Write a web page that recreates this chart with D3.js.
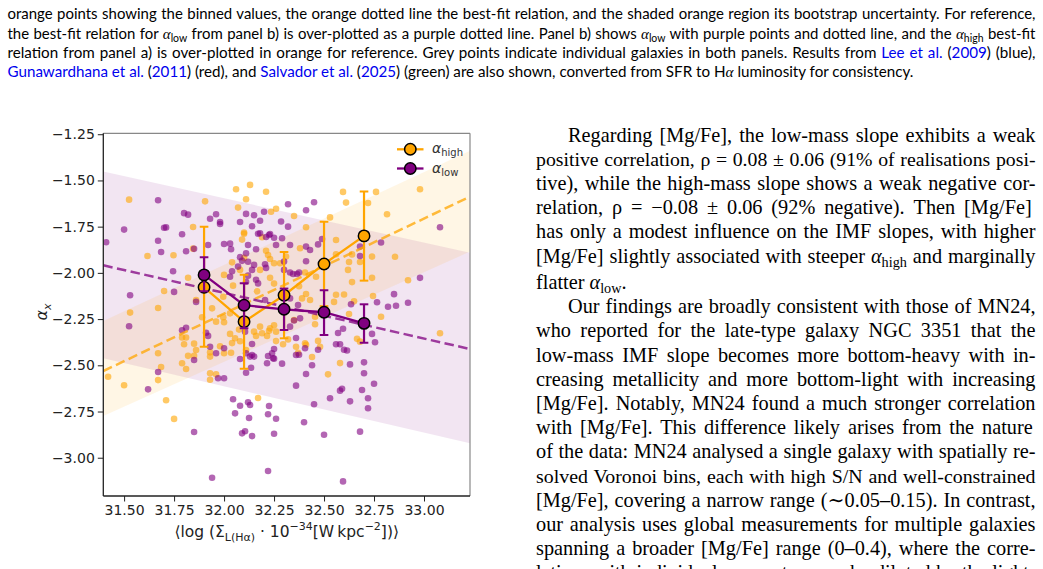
<!DOCTYPE html>
<html><head><meta charset="utf-8">
<script src="https://cdn.jsdelivr.net/npm/d3@7"></script>
<style>
body{margin:0;background:#fff;}
svg{display:block;}
</style></head><body>
<svg id="fig" width="1043" height="569"></svg>
<script>
// ---------------- DATA ----------------
const xTicks = [31.5, 31.75, 32.0, 32.25, 32.5, 32.75, 33.0];
const yTicks = [-3.0, -2.75, -2.5, -2.25, -2.0, -1.75, -1.5, -1.25];
const xDomain = [31.396, 33.23];
const yDomain = [-3.207, -1.245];

// binned values
const binX = [31.9, 32.1, 32.3, 32.5, 32.7];
const highY = [-2.078, -2.264, -2.121, -1.952, -1.80];
const highLo = [-2.40, -2.518, -2.354, -2.18, -2.042];
const highHi = [-1.75, -2.01, -1.887, -1.723, -1.56];
const lowY = [-2.011, -2.175, -2.197, -2.213, -2.273];
const lowLo = [-2.10, -2.30, -2.309, -2.336, -2.378];
const lowHi = [-1.916, -2.056, -2.085, -2.094, -2.17];

// best-fit relations (values at the axis ends) and bootstrap bands
const fitX = [31.396, 33.23];
const highFitY = [-2.531, -1.588];
const highBandLo = [-2.774, -1.885];
const highBandHi = [-2.26, -1.339];
const lowFitY = [-1.959, -2.412];
const lowBandLo = [-2.462, -2.922];
const lowBandHi = [-1.452, -1.891];

// individual galaxies
const highPts = [
[31.525,-1.604],[31.905,-1.613],[32.06,-1.548],[32.13,-1.524],[32.21,-1.561],[32.11,-1.602],[32.07,-1.647],[32.235,-1.669],[32.26,-1.653],[31.845,-1.752],
[32.10,-1.788],[32.09,-1.82],[31.617,-1.909],[31.747,-1.905],[31.845,-1.869],[31.82,-2.026],[31.70,-2.098],[31.67,-2.19],[31.53,-2.215],[32.10,-1.919],
[32.08,-1.984],[32.21,-1.88],[32.23,-1.925],[32.25,-1.948],[32.045,-2.069],[32.165,-2.10],[32.25,-2.058],[31.996,-2.129],
[32.595,-1.562],[32.61,-1.62],[32.76,-1.562],[32.72,-1.622],[32.98,-1.548],[32.815,-1.683],[32.53,-1.70],[32.41,-1.753],[32.35,-1.692],
[32.855,-1.913],[32.74,-1.912],[32.68,-1.941],[32.64,-1.90],[32.625,-1.941],[32.62,-1.984],[32.56,-1.899],[32.64,-2.05],[32.92,-2.04],[32.74,-2.027],
[32.56,-2.118],[32.60,-2.117],[32.41,-2.114],[32.375,-2.072],[32.46,-2.021],[32.55,-2.157],[32.65,-2.154],[32.745,-2.125],
[31.42,-2.562],[31.50,-2.608],[31.71,-2.689],[31.75,-2.79],[31.67,-2.435],[31.685,-2.509],[31.67,-2.58],[31.79,-2.489],[31.81,-2.52],[31.93,-2.543],
[31.93,-2.578],[31.96,-2.549],[31.82,-2.449],[31.85,-2.449],[31.85,-2.383],[31.86,-2.417],[31.80,-2.386],[31.79,-2.35],[31.81,-2.35],[31.93,-2.43],
[31.98,-2.397],[32.035,-2.432],[32.04,-2.38],[32.03,-2.33],[32.075,-2.307],[32.08,-2.37],[32.17,-2.677],[32.11,-2.417],[32.19,-2.327],[32.225,-2.313],
[32.25,-2.284],[32.26,-2.369],[32.295,-2.386],[32.16,-2.341],[31.96,-2.264],[32.0,-2.267],
[33.08,-2.327],[32.785,-2.237],[32.58,-2.488],[32.52,-2.549],[32.44,-2.455],[32.41,-2.389],[32.36,-2.40],[32.37,-2.433],[32.47,-2.368],[32.48,-2.40],
[32.32,-2.36],[32.665,-2.357],[32.68,-2.372],[32.455,-2.278],[32.625,-2.223],
[32.10,-1.782],[32.19,-1.807],[32.22,-1.903],[32.04,-1.943],[32.0,-2.011],[32.18,-1.984],[32.23,-2.027],[32.405,-1.998],[31.86,-2.147],[31.94,-2.192],
[31.89,-2.24],[31.996,-2.24],[32.03,-2.219],[32.15,-2.318],[32.18,-2.291],[32.23,-2.30],[32.215,-2.341],[32.26,-2.318],[32.405,-2.381],[31.93,-2.453],
[32.0,-2.435],[32.055,-2.354],[32.35,-2.255],[32.455,-2.237],[32.43,-2.147],[32.39,-2.138],[32.28,-1.948],[32.31,-1.912],[32.38,-1.867],[32.56,-1.822]
];
const lowPts = [
[31.41,-1.834],[31.67,-1.607],[31.50,-1.766],[31.70,-1.756],[31.71,-1.754],[31.67,-1.826],[31.685,-1.887],[31.79,-1.791],[31.80,-1.677],[31.82,-1.685],
[31.93,-1.707],[31.96,-1.683],[31.98,-1.736],[31.98,-1.725],[31.92,-1.849],[31.81,-1.883],[31.85,-1.870],[31.745,-1.991],[31.53,-2.121],[31.86,-2.157],
[32.0,-1.844],[32.03,-1.842],[32.035,-1.872],[32.11,-1.681],[32.08,-1.725],[32.14,-1.748],[32.15,-1.688],[32.12,-1.849],[32.16,-1.872],[32.17,-1.788],
[32.18,-1.718],[32.20,-1.669],[32.21,-1.806],[32.23,-1.79],[32.25,-1.81],[32.29,-1.813],[32.285,-1.722],[32.32,-1.629],[32.11,-1.894],[32.08,-1.915],
[32.09,-1.935],[32.07,-1.966],[32.04,-1.991],[32.12,-2.015],[32.14,-1.984],[32.16,-2.037],[32.205,-1.953],[32.21,-1.973],[32.30,-1.939],[32.11,-2.048],[31.75,-2.103],
[32.45,-1.618],[32.41,-1.661],[32.32,-1.75],[33.08,-1.753],[32.785,-1.836],[32.68,-1.858],[32.68,-1.909],[32.49,-1.817],[32.47,-1.846],[32.41,-1.858],
[32.43,-1.876],[32.41,-1.937],[32.365,-2.006],[32.345,-2.006],[32.98,-2.027],[32.85,-2.115],[32.92,-2.162],[32.82,-2.183],[32.86,-2.178],[32.635,-2.17],[32.765,-2.159],
[31.525,-2.289],[31.62,-2.63],[31.67,-2.536],[31.85,-2.861],[31.94,-3.108],[31.79,-2.31],[31.81,-2.297],[31.91,-2.324],[31.93,-2.40],[31.96,-2.435],
[32.0,-2.408],[31.97,-2.57],[32.0,-2.57],[32.045,-2.684],[32.055,-2.76],[32.08,-2.719],[32.12,-2.70],[32.13,-2.715],[32.125,-2.785],[32.09,-2.868],
[32.105,-2.857],[32.14,-2.883],[32.08,-2.466],[32.11,-2.54],[32.135,-2.513],[32.11,-2.435],[32.13,-2.453],[32.15,-2.453],[32.14,-2.385],[32.215,-2.489],
[32.225,-2.72],[32.22,-2.765],[32.26,-2.789],[32.25,-2.87],[32.22,-3.072],[32.25,-2.464],[32.29,-2.491],[32.24,-2.435],[32.25,-2.412],
[32.36,-2.352],[32.375,-2.443],[32.47,-2.416],[32.44,-2.50],[32.41,-2.547],[32.36,-2.61],[32.45,-2.711],[32.40,-2.808],[32.50,-2.876],[32.595,-3.128],
[32.68,-2.859],[32.53,-2.678],[32.58,-2.637],[32.59,-2.627],[32.63,-2.695],[32.69,-2.634],[32.72,-2.678],[32.72,-2.732],[32.75,-2.60],[32.70,-2.543],
[32.70,-2.484],[32.63,-2.495],[32.57,-2.325],[32.595,-2.302],[32.56,-2.386],[32.58,-2.386],[32.60,-2.416],[32.615,-2.42],[32.74,-2.33],[32.755,-2.375],
[32.18,-1.786],[32.225,-1.795],[32.26,-1.849],[32.33,-1.849],[32.33,-1.998],[32.375,-1.998],[32.12,-1.94],[32.15,-1.957],[32.03,-2.021],[32.17,-2.057],
[32.205,-2.147],[32.30,-1.984],[32.33,-2.138],[32.37,-2.174],[32.38,-2.246],[32.35,-2.258],[32.33,-2.291],[32.405,-2.408],[32.36,-2.444],[32.22,-2.45],
[32.245,-2.462],[32.14,-2.444],[32.105,-2.318],[31.92,-2.341],[31.85,-2.471]
];

const legendLabels = [["α","high"],["α","low"]];

// ---------------- TEXT ----------------
const captionLines = [
 [{t:"orange points showing the binned values, the orange dotted line the best-fit relation, and the shaded orange region its bootstrap uncertainty. For reference,"}],
 [{t:"the best-fit relation for "},{t:"α",m:1},{t:"low",sub:1},{t:" from panel b) is over-plotted as a purple dotted line. Panel b) shows "},{t:"α",m:1},{t:"low",sub:1},{t:" with purple points and dotted line, and the "},{t:"α",m:1},{t:"high",sub:1},{t:" best-fit"}],
 [{t:"relation from panel a) is over-plotted in orange for reference. Grey points indicate individual galaxies in both panels. Results from "},{t:"Lee et al.",link:1},{t:" ("},{t:"2009",link:1},{t:") (blue),"}],
 [{t:"Gunawardhana et al.",link:1},{t:" ("},{t:"2011",link:1},{t:") (red), and "},{t:"Salvador et al.",link:1},{t:" ("},{t:"2025",link:1},{t:") (green) are also shown, converted from SFR to H"},{t:"α",m:1},{t:" luminosity for consistency."}]
];
const bodyLines = [
 {ind:1, s:[{t:"Regarding [Mg/Fe], the low-mass slope exhibits a weak"}]},
 {s:[{t:"positive correlation, ρ = 0.08 ± 0.06 (91% of realisations posi-"}]},
 {s:[{t:"tive), while the high-mass slope shows a weak negative cor-"}]},
 {s:[{t:"relation, ρ = −0.08 ± 0.06 (92% negative).  Then [Mg/Fe]"}]},
 {s:[{t:"has only a modest influence on the IMF slopes, with higher"}]},
 {s:[{t:"[Mg/Fe] slightly associated with steeper "},{t:"α",m:1},{t:"high",sub:1},{t:" and marginally"}]},
 {last:1, s:[{t:"flatter "},{t:"α",m:1},{t:"low",sub:1},{t:"."}]},
 {ind:1, s:[{t:"Our findings are broadly consistent with those of MN24,"}]},
 {s:[{t:"who reported for the late-type galaxy NGC 3351 that the"}]},
 {s:[{t:"low-mass IMF slope becomes more bottom-heavy with in-"}]},
 {s:[{t:"creasing metallicity and more bottom-light with increasing"}]},
 {s:[{t:"[Mg/Fe]. Notably, MN24 found a much stronger correlation"}]},
 {s:[{t:"with [Mg/Fe].  This difference likely arises from the nature"}]},
 {s:[{t:"of the data: MN24 analysed a single galaxy with spatially re-"}]},
 {s:[{t:"solved Voronoi bins, each with high S/N and well-constrained"}]},
 {s:[{t:"[Mg/Fe], covering a narrow range (∼0.05–0.15). In contrast,"}]},
 {s:[{t:"our analysis uses global measurements for multiple galaxies"}]},
 {s:[{t:"spanning a broader [Mg/Fe] range (0–0.4), where the corre-"}]},
 {s:[{t:"lations with individual parameters can be diluted by the light-"}]}
];
const bodyCenters = [135.5,159.7,183.9,208.1,232.3,256.5,283,307.2,331.4,355.6,379.8,404,428.2,452.4,476.6,500.8,525,549.2,573.4];

// ---------------- DRAW ----------------
const svg = d3.select('#fig');
svg.append('rect').attr('width',1043).attr('height',569).attr('fill','#fff');

function textLine(parent, segs, x0, yb, target, opt) {
  let size = opt.size;
  let t;
  function build() {
    if (t) t.remove();
    t = parent.append('text').attr('x', x0).attr('y', yb)
      .attr('font-family', opt.family).attr('font-size', size).attr('fill', '#000');
    let shift = 0;
    segs.forEach(s => {
      const ts = t.append('tspan').text(s.t);
      let dy = 0;
      if (s.sub) { const d = size*opt.subShift; dy = d - shift; shift = d; ts.attr('font-size', size*0.7); }
      else { dy = -shift; shift = 0; }
      if (dy) ts.attr('dy', dy);
      if (s.m) ts.attr('font-family', opt.math).attr('font-style', 'italic');
      if (s.link) ts.attr('fill', opt.link);
    });
  }
  build();
  const w0 = t.node().getComputedTextLength();
  if (target) {
    let w = w0;
    if (w > target * 0.995) { size = size * target * 0.985 / w; build(); w = t.node().getComputedTextLength(); }
    const spaces = segs.map(s => (s.t.match(/ /g) || []).length).reduce((a,b)=>a+b, 0);
    if (spaces) t.attr('word-spacing', (target - w) / spaces);
  }
  return {t, w: w0};
}

// caption: font size chosen so the last (unjustified) line spans like the original
const capG = svg.append('g');
const capBase = [19, 38.5, 57.5, 76.5];
const capTargets = [1028, 1028, 1028, null];
const capOpt = {family:'Lato, "Open Sans", sans-serif', size:14.6, math:'"Liberation Serif", serif', link:'#0000ee', subShift:0.22};
const probe = textLine(capG, captionLines[3], 0, -100, null, capOpt);
probe.t.remove();
capOpt.size = capOpt.size * 906 / probe.w;
captionLines.forEach((segs, i) => {
  textLine(capG, segs, 7.5, capBase[i], capTargets[i], capOpt);
});

// body text
const bodyG = svg.append('g');
bodyLines.forEach((ln, i) => {
  const x0 = ln.ind ? 568 : 536;
  const target = ln.last ? null : 1035.5 - x0;
  textLine(bodyG, ln.s, x0, bodyCenters[i] + 6, target,
    {family:'"Liberation Serif", "DejaVu Serif", serif', size:20.3, math:'"Liberation Serif", serif', link:'#0000ee', subShift:0.22});
});

// chart
const M = {left:103.3, right:470, top:133.3, bottom:496};
const x = d3.scaleLinear().domain(xDomain).range([M.left, M.right]);
const y = d3.scaleLinear().domain(yDomain).range([M.bottom, M.top]);

svg.append('clipPath').attr('id','clip').append('rect')
  .attr('x', M.left).attr('y', M.top).attr('width', M.right-M.left).attr('height', M.bottom-M.top);
const plot = svg.append('g').attr('clip-path','url(#clip)');

const ORANGE = '#ffa500', PURPLE = '#800080';

function band(lo, hi) { return fitX.map((v,i)=>({x:v, lo:lo[i], hi:hi[i]})); }
const area = d3.area().x(d=>x(d.x)).y0(d=>y(d.lo)).y1(d=>y(d.hi));
plot.append('path').datum(band(lowBandLo, lowBandHi)).attr('d', area).attr('fill', PURPLE).attr('fill-opacity', 0.1);
plot.append('path').datum(band(highBandLo, highBandHi)).attr('d', area).attr('fill', ORANGE).attr('fill-opacity', 0.1);

plot.append('g').selectAll('circle').data(highPts).join('circle')
  .attr('cx', d=>x(d[0])).attr('cy', d=>y(d[1])).attr('r', 3.3)
  .attr('fill', ORANGE).attr('fill-opacity', 0.6);
plot.append('g').selectAll('circle').data(lowPts).join('circle')
  .attr('cx', d=>x(d[0])).attr('cy', d=>y(d[1])).attr('r', 3.3)
  .attr('fill', PURPLE).attr('fill-opacity', 0.6);

const line = d3.line().x(d=>x(d[0])).y(d=>y(d[1]));
plot.append('path').datum(fitX.map((v,i)=>[v, highFitY[i]])).attr('d', line)
  .attr('fill','none').attr('stroke', ORANGE).attr('stroke-opacity', 0.75).attr('stroke-width', 2.5).attr('stroke-dasharray','9.5,4.5');
plot.append('path').datum(fitX.map((v,i)=>[v, lowFitY[i]])).attr('d', line)
  .attr('fill','none').attr('stroke', PURPLE).attr('stroke-opacity', 0.75).attr('stroke-width', 2.5).attr('stroke-dasharray','9.5,4.5');

function errSeries(ys, lo, hi, color) {
  const g = plot.append('g');
  const pts = binX.map((v,i)=>[v, ys[i]]);
  g.append('path').datum(pts).attr('d', line).attr('fill','none').attr('stroke', color).attr('stroke-width', 2.3);
  binX.forEach((v,i)=>{
    g.append('line').attr('x1', x(v)).attr('x2', x(v)).attr('y1', y(lo[i])).attr('y2', y(hi[i]))
      .attr('stroke', color).attr('stroke-width', 2.2);
    [lo[i], hi[i]].forEach(c => g.append('line').attr('x1', x(v)-4.3).attr('x2', x(v)+4.3)
      .attr('y1', y(c)).attr('y2', y(c)).attr('stroke', color).attr('stroke-width', 2));
  });
  g.selectAll('circle').data(pts).join('circle').attr('cx', d=>x(d[0])).attr('cy', d=>y(d[1]))
    .attr('r', 5.7).attr('fill', color).attr('stroke', '#000').attr('stroke-width', 1.5);
}
errSeries(highY, highLo, highHi, ORANGE);
errSeries(lowY, lowLo, lowHi, PURPLE);

// axes
const fontAx = '"DejaVu Sans", sans-serif';
const fmt = d3.format('.2f');
const gx = svg.append('g').attr('transform', `translate(0,${M.bottom})`)
  .call(d3.axisBottom(x).tickValues(xTicks).tickFormat(fmt).tickSize(5.5).tickPadding(3.5));
const gy = svg.append('g').attr('transform', `translate(${M.left},0)`)
  .call(d3.axisLeft(y).tickValues(yTicks).tickFormat(fmt).tickSize(5.5).tickPadding(3));
[gx, gy].forEach(g => {
  g.select('.domain').remove();
  g.selectAll('line').attr('stroke', '#222').attr('stroke-width', 1);
  g.selectAll('text').attr('font-family', fontAx).attr('font-size', 14).attr('fill', '#222');
});
// spines
svg.append('line').attr('x1', M.left).attr('x2', M.right).attr('y1', M.top).attr('y2', M.top).attr('stroke', '#888').attr('stroke-width', 1.2);
svg.append('line').attr('x1', M.right).attr('x2', M.right).attr('y1', M.top).attr('y2', M.bottom).attr('stroke', '#888').attr('stroke-width', 1.2);
svg.append('line').attr('x1', M.left).attr('x2', M.right).attr('y1', M.bottom).attr('y2', M.bottom).attr('stroke', '#222').attr('stroke-width', 1.3);
svg.append('line').attr('x1', M.left).attr('x2', M.left).attr('y1', M.top).attr('y2', M.bottom).attr('stroke', '#222').attr('stroke-width', 1.3);

// axis labels
const xl = svg.append('text').attr('x', 286.7).attr('y', 536.5).attr('text-anchor', 'middle')
  .attr('font-family', fontAx).attr('font-size', 15.5).attr('fill', '#222');
[[ '⟨log (Σ', 0], ['L(Hα)', 1], [' · 10', 0], ['−34', 2], ['[W\u2009kpc', 0], ['−2', 2], ['])⟩', 0]].reduce((shift, [t, k]) => {
  const ts = xl.append('tspan').text(t);
  let d = k === 1 ? 4.2 : (k === 2 ? -6.5 : 0);
  if (d - shift) ts.attr('dy', d - shift);
  if (k) ts.attr('font-size', 11);
  return d;
}, 0);

const yl = svg.append('text').attr('transform', 'translate(47,312) rotate(-90)').attr('text-anchor', 'middle')
  .attr('font-family', fontAx).attr('font-size', 16).attr('fill', '#222');
yl.append('tspan').text('α').attr('font-style', 'italic');
yl.append('tspan').text('x').attr('font-size', 11).attr('font-style', 'italic').attr('dy', 3.5);

// legend
const lg = svg.append('g');
[[ORANGE, 149.3], [PURPLE, 168.5]].forEach(([c, yy], i) => {
  lg.append('line').attr('x1', 397).attr('x2', 423.5).attr('y1', yy).attr('y2', yy).attr('stroke', c).attr('stroke-width', 2.3);
  lg.append('circle').attr('cx', 410.3).attr('cy', yy).attr('r', 5.7).attr('fill', c).attr('stroke', '#000').attr('stroke-width', 1.5);
  const t = lg.append('text').attr('x', 432).attr('y', yy + 4).attr('font-family', fontAx).attr('font-size', 14).attr('fill', '#333');
  t.append('tspan').text(legendLabels[i][0]).attr('font-style', 'italic');
  t.append('tspan').text(legendLabels[i][1]).attr('font-size', 10).attr('dy', 3);
});
</script>
</body></html>
